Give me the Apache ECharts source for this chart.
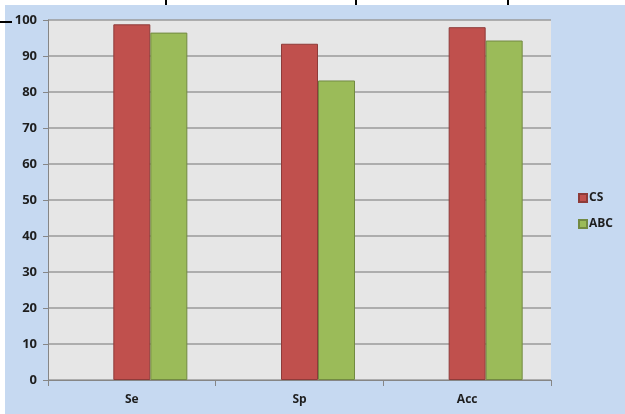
<!DOCTYPE html>
<html><head><meta charset="utf-8">
<script src="https://cdn.jsdelivr.net/npm/echarts@6/dist/echarts.min.js"></script>
<style>html,body{margin:0;padding:0;background:#fff}#c{width:625px;height:414px}</style>
</head><body><div id="c"></div>
<script>
const categories = ['Se', 'Sp', 'Acc'];
const csValues = [98.8, 93.4, 98.0];
const abcValues = [96.5, 83.2, 94.3];
const spacerValues = [null, null, null];
const seriesNames = ['CS', 'ABC'];
const yTicks = {min: 0, max: 100, interval: 10};

const chart = echarts.init(document.getElementById('c'), null, {renderer: 'canvas'});
const lbl = {color: '#1e1e1e', fontWeight: 'bold', fontFamily: 'Open Sans', fontSize: 12};
chart.setOption({
  backgroundColor: '#ffffff',
  animation: false,
  graphic: [
    {type: 'rect', z: -10, shape: {x: 5, y: 5, width: 620, height: 409}, style: {fill: '#c6d9f1'}, silent: true},
    {type: 'rect', z: 100, shape: {x: 165, y: 0, width: 2, height: 5}, style: {fill: '#000'}, silent: true},
    {type: 'rect', z: 100, shape: {x: 355, y: 0, width: 2, height: 5}, style: {fill: '#000'}, silent: true},
    {type: 'rect', z: 100, shape: {x: 507, y: 0, width: 2, height: 5}, style: {fill: '#000'}, silent: true},
    {type: 'rect', z: 100, shape: {x: 0, y: 21, width: 12, height: 2}, style: {fill: '#000'}, silent: true}
  ],
  grid: {left: 48, right: 74, top: 20, bottom: 34, show: true, backgroundColor: '#e6e6e6', borderWidth: 0},
  legend: {
    data: seriesNames, orient: 'vertical', left: 573, top: 187, itemGap: 14,
    itemWidth: 8, itemHeight: 8, icon: 'rect',
    textStyle: Object.assign({}, lbl, {fontSize: 12, padding: [0, 0, 0, -3]})
  },
  xAxis: {
    type: 'category', data: categories,
    axisLine: {lineStyle: {color: '#868686', width: 1}},
    axisTick: {show: true, length: 6, lineStyle: {color: '#868686'}},
    axisLabel: Object.assign({}, lbl, {margin: 14, fontSize: 12})
  },
  yAxis: {
    type: 'value', min: yTicks.min, max: yTicks.max, interval: yTicks.interval,
    axisLine: {show: true, lineStyle: {color: '#868686', width: 1}},
    axisTick: {show: true, length: 5, lineStyle: {color: '#868686'}},
    axisLabel: Object.assign({}, lbl, {fontSize: 13, margin: 11}),
    splitLine: {lineStyle: {color: '#9a9a9a', width: 1.5}}
  },
  series: [
    {name: '', type: 'bar', data: spacerValues, barWidth: 37, barGap: '0%'},
    {name: seriesNames[0], type: 'bar', data: csValues, barWidth: 37, barGap: '0%',
     itemStyle: {color: '#c0504d', borderColor: '#8e3b39', borderWidth: 1}},
    {name: seriesNames[1], type: 'bar', data: abcValues, barWidth: 37, barGap: '0%',
     itemStyle: {color: '#9bbb59', borderColor: '#728a42', borderWidth: 1}}
  ]
});
</script></body></html>
